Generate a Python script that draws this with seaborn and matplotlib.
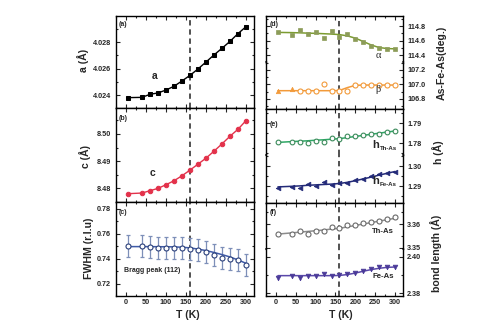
import numpy as np
import pandas as pd
import matplotlib
matplotlib.use("Agg")
import matplotlib.pyplot as plt
from matplotlib.ticker import MultipleLocator, FormatStrFormatter
import seaborn as sns

# ---------------- data ----------------
T = [5, 40, 60, 80, 100, 120, 140, 160, 180, 200, 220, 240, 260, 280, 300]

a_vals = [4.02383, 4.02385, 4.02408, 4.02418, 4.02440, 4.02468, 4.02508, 4.02550,
          4.02598, 4.02650, 4.02703, 4.02753, 4.02805, 4.02863, 4.02915]
c_vals = [8.47805, 8.47829, 8.47915, 8.48000, 8.48134, 8.48280, 8.48463, 8.48671,
          8.48890, 8.49110, 8.49366, 8.49634, 8.49915, 8.50171, 8.50488]
fwhm_vals = [0.7506, 0.7506, 0.7496, 0.7488, 0.7488, 0.7488, 0.7485, 0.7482,
             0.7472, 0.7458, 0.7429, 0.7410, 0.7402, 0.7391, 0.7351]
fwhm_err = [0.0088, 0.0088, 0.0088, 0.0088, 0.0088, 0.0088, 0.0088, 0.0088,
            0.0088, 0.0088, 0.0088, 0.0088, 0.0088, 0.0088, 0.0088]
fwhm_fit = [0.7498, 0.7498, 0.7498, 0.7497, 0.7497, 0.7496, 0.7493, 0.7488,
            0.7478, 0.7466, 0.7451, 0.7434, 0.7415, 0.7391, 0.7364]

alpha_vals = [114.713, 114.680, 114.745, 114.690, 114.713, 114.630, 114.727, 114.644,
              114.685, 114.617, 114.583, 114.520, 114.500, 114.492, 114.487]
alpha_fit = [114.713, 114.710, 114.707, 114.703, 114.700, 114.695, 114.690, 114.683,
             114.665, 114.634, 114.588, 114.540, 114.505, 114.492, 114.487]
beta_vals = [106.912, 106.935, 106.912, 106.912, 106.912, 107.004, 106.912, 106.912,
             106.912, 106.990, 106.990, 106.990, 106.990, 106.990, 106.990]
beta_fit = [106.912, 106.912, 106.912, 106.912, 106.912, 106.912, 106.912, 106.915,
            106.955, 106.986, 106.990, 106.990, 106.990, 106.990, 106.990]

hTh_vals = [1.78035, 1.78050, 1.78065, 1.78000, 1.78115, 1.78035, 1.78250, 1.78215,
            1.78365, 1.78365, 1.78400, 1.78450, 1.78465, 1.78535, 1.78600]
hTh_fit = [1.7803, 1.7807, 1.7809, 1.7811, 1.7814, 1.7816, 1.7819, 1.7822,
           1.7827, 1.7833, 1.7838, 1.7844, 1.7849, 1.7855, 1.7860]
hFe_vals = [1.28935, 1.28985, 1.28935, 1.29100, 1.29015, 1.29215, 1.29050, 1.29165,
            1.29165, 1.29300, 1.29385, 1.29515, 1.29635, 1.29685, 1.29715]
hFe_fit = [1.2897, 1.2900, 1.2902, 1.2905, 1.2907, 1.2909, 1.2911, 1.2914,
           1.2920, 1.2928, 1.2937, 1.2946, 1.2956, 1.2965, 1.2974]

ThAs_vals = [3.35583, 3.35583, 3.35696, 3.35583, 3.35696, 3.35696, 3.35875, 3.35846,
             3.35958, 3.35971, 3.36029, 3.36096, 3.36138, 3.36196, 3.36292]
ThAs_fit = [3.3558, 3.3563, 3.3566, 3.3569, 3.3572, 3.3575, 3.3579, 3.3582,
            3.3588, 3.3594, 3.3600, 3.3606, 3.3612, 3.3618, 3.3624]
FeAs_vals = [2.38848, 2.38957, 2.38848, 2.38957, 2.38957, 2.39033, 2.38957, 2.38995,
             2.39033, 2.39120, 2.39228, 2.39321, 2.39413, 2.39429, 2.39429]
FeAs_fit = [2.3896, 2.3896, 2.3896, 2.3896, 2.3896, 2.3896, 2.3896, 2.3897,
            2.3902, 2.3910, 2.3920, 2.3929, 2.3936, 2.3941, 2.3943]

x_ticks = [0, 50, 100, 150, 200, 250, 300]

# ---------------- style ----------------
sns.set_style("ticks")
plt.rcParams['font.family'] = ['Liberation Sans', 'DejaVu Sans']
plt.rcParams['font.weight'] = 'bold'
plt.rcParams['axes.linewidth'] = 1.0

W, H = 500, 328
fig = plt.figure(figsize=(5, 3.28), dpi=100)

def add_ax(x0, x1, y0, y1):
    return fig.add_axes([x0 / W, 1 - y1 / H, (x1 - x0) / W, (y1 - y0) / H])

def ftext(x, y, s, **kw):
    fig.text(x / W, 1 - y / H, s, **kw)

TICK_FS = 5.2
XLIM = (-25, 320)

def style(ax, ylim, ymaj, ymin, fmt, side='left', xlabels=False,
          hide_top=False, hide_bottom=False):
    ax.set_xlim(*XLIM)
    ax.set_ylim(*ylim)
    ax.xaxis.set_major_locator(MultipleLocator(50))
    ax.xaxis.set_minor_locator(MultipleLocator(25))
    ax.yaxis.set_major_locator(MultipleLocator(ymaj))
    ax.yaxis.set_minor_locator(MultipleLocator(ymin))
    ax.yaxis.set_major_formatter(FormatStrFormatter(fmt))
    ax.tick_params(which='both', direction='in', top=not hide_top,
                   bottom=not hide_bottom, left=True, right=True,
                   labelsize=TICK_FS, width=0.8)
    ax.tick_params(which='major', length=2.6)
    ax.tick_params(which='minor', length=1.4)
    ax.tick_params(axis='x', labelbottom=xlabels, pad=2.5)
    if side == 'left':
        ax.tick_params(axis='y', labelleft=True, labelright=False, pad=3.5)
    else:
        ax.tick_params(axis='y', labelleft=False, labelright=True, pad=3.0)
    for lab in ax.get_xticklabels() + ax.get_yticklabels():
        lab.set_fontweight('bold')
    if hide_top:
        ax.spines['top'].set_visible(False)
    if hide_bottom:
        ax.spines['bottom'].set_visible(False)
    for sp in ax.spines.values():
        sp.set_linewidth(1.0)
        sp.set_color('black')
    ax.set_xlabel('')
    ax.set_ylabel('')
    ax.axvline(160, color='#222222', lw=1.1, ls=(0, (3.5, 2.5)), zorder=1)

def fit_line(ax, y, color, lw=1.0):
    sns.lineplot(x=T, y=y, ax=ax, color=color, lw=lw, zorder=2)

def open_pts(ax, y, color, marker='o', ms=3.4):
    sns.lineplot(x=T, y=y, ax=ax, linestyle='', marker=marker, markersize=ms,
                 markerfacecolor='white', markeredgecolor=color,
                 markeredgewidth=0.8, color=color, zorder=3)

def filled_pts(ax, y, color, marker='o', ms=3.4, xs=None):
    sns.lineplot(x=T if xs is None else xs, y=y, ax=ax, linestyle='', marker=marker,
                 markersize=ms, markerfacecolor=color, markeredgecolor=color,
                 markeredgewidth=0.5, color=color, zorder=3)

# ---------------- left column ----------------
LX0, LX1 = 116, 254
ax_a = add_ax(LX0, LX1, 16, 108.3)
ax_b = add_ax(LX0, LX1, 108.3, 202)
ax_c = add_ax(LX0, LX1, 202, 295.7)

# (a)
sns.lineplot(x=T, y=a_vals, ax=ax_a, color='black', lw=1.0, marker='s',
             markersize=3.0, markeredgecolor='black', markerfacecolor='black')
style(ax_a, (4.02303, 4.02995), 0.002, 0.001, '%.3f')

# (b)
red = '#e3324b'
sns.lineplot(x=T, y=c_vals, ax=ax_b, color=red, lw=1.0, marker='o',
             markersize=3.2, markeredgecolor=red, markerfacecolor=red)
style(ax_b, (8.4750, 8.5094), 0.01, 0.005, '%.2f')

# (c)
blue = '#3f5ba8'
ax_c.errorbar(T, fwhm_vals, yerr=fwhm_err, fmt='none', ecolor='#7d8fb8',
              elinewidth=0.9, capsize=1.6, capthick=0.9, zorder=2)
fit_line(ax_c, fwhm_fit, blue, lw=1.1)
open_pts(ax_c, fwhm_vals, '#2a3f7a', ms=3.6)
style(ax_c, (0.7104, 0.7856), 0.02, 0.01, '%.2f', xlabels=True)
ax_c.set_xticks(x_ticks)

# ---------------- right column ----------------
RX0, RX1 = 266, 403
ax_d1 = add_ax(RX0, RX1, 16, 62.5)
ax_d2 = add_ax(RX0, RX1, 62.5, 109)
ax_e1 = add_ax(RX0, RX1, 109, 155.3)
ax_e2 = add_ax(RX0, RX1, 155.3, 202.7)
ax_f1 = add_ax(RX0, RX1, 202.7, 249)
ax_f2 = add_ax(RX0, RX1, 249, 295.7)

# (d)
green_d = '#7c9c30'
fit_line(ax_d1, alpha_fit, green_d, lw=1.1)
filled_pts(ax_d1, alpha_vals, '#8c9c58', marker='s', ms=3.0)
style(ax_d1, (114.30, 114.938), 0.2, 0.1, '%.1f', side='right', hide_bottom=True)

orange = '#f29a3a'
fit_line(ax_d2, beta_fit, orange, lw=1.1)
filled_pts(ax_d2, beta_vals[:2], orange, marker='^', ms=3.2, xs=T[:2])
sns.lineplot(x=T[2:], y=beta_vals[2:], ax=ax_d2, linestyle='', marker='o',
             markersize=3.6, markerfacecolor='white', markeredgecolor=orange,
             markeredgewidth=0.8, color=orange, zorder=3)
style(ax_d2, (106.658, 107.303), 0.2, 0.1, '%.1f', side='right', hide_top=True)

# (e)
green_e = '#2fa866'
fit_line(ax_e1, hTh_fit, green_e, lw=1.1)
open_pts(ax_e1, hTh_vals, '#3a8a5a', ms=3.4)
style(ax_e1, (1.77385, 1.7970), 0.01, 0.005, '%.2f', side='right', hide_bottom=True)

navy = '#232a78'
fit_line(ax_e2, hFe_fit, navy, lw=1.1)
filled_pts(ax_e2, hFe_vals, navy, marker='<', ms=3.4)
style(ax_e2, (1.2818, 1.3055), 0.01, 0.005, '%.2f', side='right', hide_top=True)

# (f)
gray = '#8c8c8c'
fit_line(ax_f1, ThAs_fit, gray, lw=1.1)
open_pts(ax_f1, ThAs_vals, '#6a6a6a', ms=3.6)
style(ax_f1, (3.34958, 3.36888), 0.01, 0.005, '%.2f', side='right', hide_bottom=True)

purple = '#5a48aa'
fit_line(ax_f2, FeAs_fit, purple, lw=1.1)
filled_pts(ax_f2, FeAs_vals, '#4a3a98', marker='v', ms=3.4)
style(ax_f2, (2.3787, 2.40408), 0.02, 0.01, '%.2f', side='right', hide_top=True,
      xlabels=True)
ax_f2.set_xticks(x_ticks)

# axis-break dots
for yb in (62.5, 155.3, 249):
    for xb in (RX0, RX1):
        ftext(xb, yb, '•', ha='center', va='center', fontsize=5, color='black')

# ---------------- texts ----------------
lab_kw = dict(fontsize=7.6, fontweight='bold', ha='center', va='center', rotation=90)
ftext(83, 60, 'a (Å)', **lab_kw)
ftext(85, 157, 'c (Å)', **lab_kw)
ftext(89, 248, 'FWHM (r.l.u)', **lab_kw)
ftext(442, 62.5, 'As-Fe-As(deg.)', **lab_kw)
ftext(438, 152, 'h (Å)', **lab_kw)
ftext(436, 253, 'bond length (Å)', **lab_kw)

ftext(188, 315, 'T (K)', fontsize=7.6, fontweight='bold', ha='center', va='center')
ftext(341, 315, 'T (K)', fontsize=7.6, fontweight='bold', ha='center', va='center')

pk = dict(fontsize=5, fontweight='bold', ha='left', va='center')
ftext(119, 25, '(a)', **pk)
ftext(119, 118, '(b)', **pk)
ftext(119, 212, '(c)', **pk)
ftext(270, 25, '(d)', **pk)
ftext(270, 125, '(e)', **pk)
ftext(270, 213, '(f)', **pk)

ftext(155, 76, 'a', fontsize=7.5, fontweight='bold', ha='center', va='center')
ftext(153, 173, 'c', fontsize=7.5, fontweight='bold', ha='center', va='center')
ftext(124, 271, 'Bragg peak (112)', fontsize=5, fontweight='bold', ha='left', va='center')

ftext(378, 56, 'α', fontsize=7.5, family=['Liberation Serif', 'DejaVu Serif'],
      ha='center', va='center', fontweight='normal')
ftext(378, 89, 'β', fontsize=7.5, family=['Liberation Serif', 'DejaVu Serif'],
      ha='center', va='center', fontweight='normal')

ftext(375.5, 145, 'h', fontsize=8, fontweight='bold', ha='center', va='center')
ftext(379.5, 148.5, 'Th-As', fontsize=4.4, fontweight='bold', ha='left', va='center')
ftext(375.5, 181.5, 'h', fontsize=8, fontweight='bold', ha='center', va='center')
ftext(379.5, 185, 'Fe-As', fontsize=4.4, fontweight='bold', ha='left', va='center')

ftext(383, 231.5, 'Th-As', fontsize=5.6, fontweight='bold', ha='center', va='center')
ftext(383, 276, 'Fe-As', fontsize=5.6, fontweight='bold', ha='center', va='center')

fig.savefig('out.png', dpi=100)
